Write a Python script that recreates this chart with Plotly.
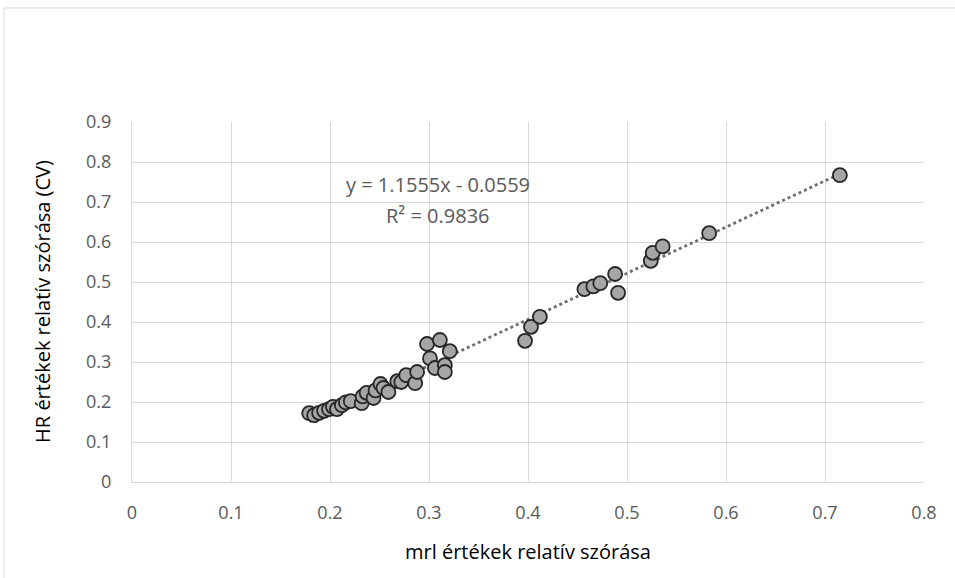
import plotly.graph_objects as go

# Relative spread (CV) of mrl values vs. HR values
mrl_cv = [0.179, 0.184, 0.189, 0.194, 0.199, 0.203, 0.207, 0.212, 0.216, 0.221,
          0.232, 0.233, 0.237, 0.244, 0.246, 0.251, 0.254, 0.259, 0.268, 0.272,
          0.277, 0.286, 0.288, 0.298, 0.301, 0.306, 0.311, 0.316, 0.316, 0.321,
          0.397, 0.403, 0.412, 0.457, 0.466, 0.473, 0.488, 0.491, 0.524, 0.526,
          0.536, 0.583, 0.715]
hr_cv = [0.172, 0.167, 0.173, 0.178, 0.182, 0.188, 0.182, 0.192, 0.199, 0.202,
         0.197, 0.214, 0.223, 0.210, 0.229, 0.245, 0.235, 0.225, 0.252, 0.250,
         0.267, 0.247, 0.275, 0.345, 0.309, 0.285, 0.355, 0.292, 0.275, 0.327,
         0.353, 0.388, 0.413, 0.482, 0.489, 0.497, 0.520, 0.473, 0.553, 0.573,
         0.589, 0.622, 0.767]

# Linear trend line coefficients and fit quality
slope = 1.1555
intercept = -0.0559
r_squared = 0.9836

x_ticks = [0, 0.1, 0.2, 0.3, 0.4, 0.5, 0.6, 0.7, 0.8]
y_ticks = [0, 0.1, 0.2, 0.3, 0.4, 0.5, 0.6, 0.7, 0.8, 0.9]

x_title = "mrl értékek relatív szórása"
y_title = "HR értékek relatív szórása (CV)"

FONT = "Open Sans"

trend_x = [min(mrl_cv), max(mrl_cv)]
trend_y = [slope * v + intercept for v in trend_x]

fig = go.Figure()
fig.add_trace(go.Scatter(
    x=trend_x, y=trend_y, mode="lines",
    line=dict(color="#6f6f6f", width=2.8, dash="dot"),
    hoverinfo="skip", showlegend=False,
))
fig.add_trace(go.Scatter(
    x=mrl_cv, y=hr_cv, mode="markers",
    marker=dict(size=14, color="#a6a6a6", line=dict(color="#262626", width=1.8)),
    showlegend=False,
))

sign = "-" if intercept < 0 else "+"
eq_font = dict(family=FONT, size=20, color="#595959")
fig.add_annotation(x=0.309, y=0.745, xref="x", yref="y",
                   text=f"y = {slope}x {sign} {abs(intercept)}",
                   showarrow=False, font=eq_font)
fig.add_annotation(x=0.309, y=0.667, xref="x", yref="y",
                   text=f"R² = {r_squared}",
                   showarrow=False, font=eq_font)

# axis titles
title_font = dict(family=FONT, size=20, color="#000000")
fig.add_annotation(x=0.5, y=-0.194, xref="paper", yref="paper", text=x_title,
                   showarrow=False, font=title_font, xanchor="center", yanchor="middle")
fig.add_annotation(x=-0.1124, y=0.503, xref="paper", yref="paper", text=y_title,
                   showarrow=False, font=title_font, textangle=-90,
                   xanchor="center", yanchor="middle")

# outer chart frame
fig.add_shape(type="rect", xref="paper", yref="paper",
              x0=-0.1616, y0=-0.45, x1=1.1, y1=1.3167,
              line=dict(color="#d9d9d9", width=1), layer="below")

tick_font = dict(family=FONT, size=18, color="#595959")
fig.update_xaxes(
    range=[0, 0.8], tickvals=x_ticks, ticktext=[f"{v:g}" for v in x_ticks],
    showgrid=True, gridcolor="#d9d9d9", gridwidth=1, zeroline=False,
    showline=True, linecolor="#d9d9d9", ticks="",
    tickfont=tick_font, ticklabelstandoff=14,
)
fig.update_yaxes(
    range=[0, 0.9], tickvals=y_ticks, ticktext=[f"{v:g}" for v in y_ticks],
    showgrid=True, gridcolor="#d9d9d9", gridwidth=1, zeroline=False,
    showline=True, linecolor="#d9d9d9", ticks="",
    tickfont=tick_font, ticklabelstandoff=16,
)

fig.update_layout(
    width=955, height=578,
    margin=dict(l=132, r=31, t=122, b=96),
    paper_bgcolor="white", plot_bgcolor="white",
)

fig.write_html("out.html")
